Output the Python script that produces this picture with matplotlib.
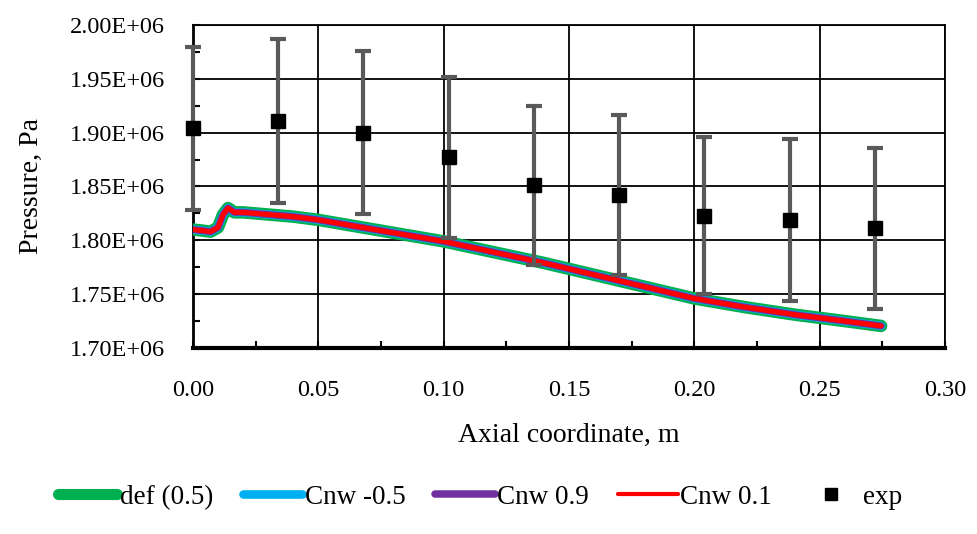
import numpy as np
import matplotlib
matplotlib.use('Agg')
import matplotlib.pyplot as plt
from matplotlib.lines import Line2D
from matplotlib.ticker import MultipleLocator, FuncFormatter

# simulated pressure profile along the axis (Pa)
xSim = [0.000, 0.004, 0.007, 0.010, 0.012, 0.014, 0.0165, 0.020, 0.030, 0.040,
        0.050, 0.060, 0.070, 0.080, 0.090, 0.100, 0.120, 0.140, 0.160, 0.180,
        0.200, 0.220, 0.240, 0.260, 0.2745]
pDef = [1.810e6, 1.809e6, 1.808e6, 1.812e6, 1.824e6, 1.830e6, 1.826e6, 1.826e6, 1.824e6, 1.822e6,
        1.819e6, 1.815e6, 1.811e6, 1.807e6, 1.803e6, 1.799e6, 1.789e6, 1.779e6, 1.768e6, 1.757e6,
        1.746e6, 1.738e6, 1.731e6, 1.725e6, 1.7205e6]
pCnwM05 = pDef
pCnw09 = pDef
pCnw01 = pDef

# experiment
xExp = [0.000, 0.034, 0.068, 0.102, 0.136, 0.170, 0.204, 0.238, 0.272]
pExp = [1.904e6, 1.911e6, 1.900e6, 1.877e6, 1.851e6, 1.842e6, 1.823e6, 1.819e6, 1.811e6]
errExp = [0.076e6, 0.076e6, 0.076e6, 0.075e6, 0.074e6, 0.074e6, 0.073e6, 0.075e6, 0.075e6]

plt.rcParams['font.family'] = 'Liberation Serif'

fig = plt.figure(figsize=(9.78, 5.34), dpi=100)
ax = fig.add_axes([0.1973, 0.3483, 0.7690, 0.6049])

ax.plot(xSim, pDef, color='#00b050', lw=9, solid_capstyle='round', zorder=3)
ax.plot(xSim, pCnwM05, color='#00b0f0', lw=6, solid_capstyle='round', zorder=4)
ax.plot(xSim, pCnw09, color='#7030a0', lw=5, solid_capstyle='round', zorder=5)
ax.plot(xSim, pCnw01, color='#ff0000', lw=3.6, solid_capstyle='round', zorder=6)
ax.errorbar(xExp, pExp, yerr=errExp, fmt='s', color='black', ms=10, ecolor='#595959',
            elinewidth=3, capsize=6, capthick=3, zorder=7, clip_on=False)

ax.set_xlim(0, 0.30)
ax.set_ylim(1.70e6, 2.00e6)
ax.xaxis.set_major_locator(MultipleLocator(0.05))
ax.xaxis.set_minor_locator(MultipleLocator(0.025))
ax.yaxis.set_major_locator(MultipleLocator(0.05e6))
ax.yaxis.set_minor_locator(MultipleLocator(0.025e6))
ax.xaxis.set_major_formatter(FuncFormatter(lambda v, p: '%.2f' % v))
ax.yaxis.set_major_formatter(FuncFormatter(lambda v, p: '%.2E' % v))
ax.tick_params(which='both', direction='in', length=5, width=1.5, labelsize=17.5)
ax.tick_params(axis='x', which='major', pad=23)
ax.tick_params(axis='y', which='major', pad=20)
ax.grid(True, which='major', color='black', lw=1.3)
for s in ['top', 'right']:
    ax.spines[s].set_linewidth(1.3)
ax.spines['left'].set_linewidth(2)
ax.spines['bottom'].set_linewidth(3)

ax.set_xlabel('Axial coordinate, m', fontsize=20, labelpad=16)
ax.set_ylabel('Pressure, Pa', fontsize=20, labelpad=19)

handles = [Line2D([], [], color='#00b050', lw=8, solid_capstyle='round'),
           Line2D([], [], color='#00b0f0', lw=6.2, solid_capstyle='round'),
           Line2D([], [], color='#7030a0', lw=5.4, solid_capstyle='round'),
           Line2D([], [], color='#ff0000', lw=3, solid_capstyle='round'),
           Line2D([], [], color='black', ls='none', marker='s', ms=9)]
labels = ['def (0.5)', 'Cnw -0.5', 'Cnw 0.9', 'Cnw 0.1', 'exp']
fig.legend(handles, labels, loc='center', bbox_to_anchor=(0.491, 0.069), ncol=5, frameon=False,
           fontsize=19.5, handlelength=2.2, handletextpad=0.08, columnspacing=1.1)

fig.savefig('out.png', dpi=100)
